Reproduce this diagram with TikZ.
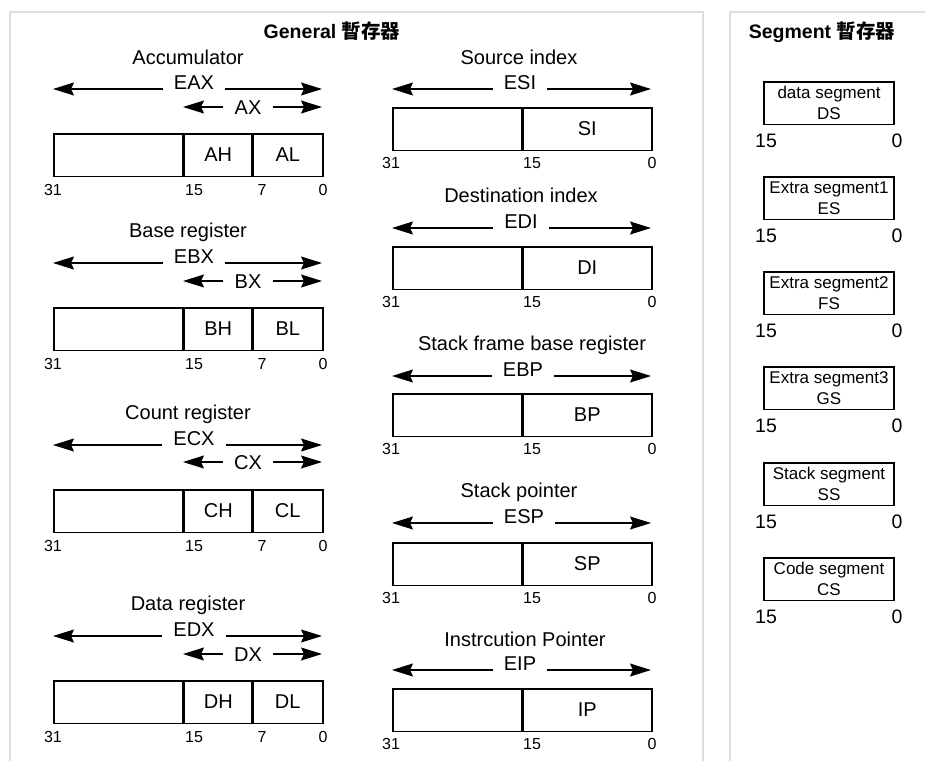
\documentclass[tikz,border=0pt]{standalone}
\usepackage{fontspec}
\setmainfont{Liberation Sans}
\newfontfamily\cjk{Noto Sans CJK TC}
\usetikzlibrary{arrows.meta}
\tikzset{
 arr/.style={line width=1.3pt, -{Stealth[length=21pt,width=13pt,inset=3pt]}},
 lbl/.style={font=\fontsize{20}{23}\selectfont, inner sep=0pt, anchor=base},
 elbl/.style={font=\fontsize{20}{23}\selectfont, inner ysep=0pt, inner xsep=11pt, anchor=base},
 xlbl/.style={font=\fontsize{20}{23}\selectfont, inner ysep=0pt, inner xsep=11pt},
 bit/.style={font=\fontsize{16}{18}\selectfont, inner sep=0pt, anchor=base},
 regbox/.style={draw, line width=1.5pt, minimum height=42.5pt, inner sep=0pt, anchor=north west, font=\fontsize{20}{23}\selectfont},
 divider/.style={line width=2.2pt},
 panel/.style={draw=black!13, line width=1.5pt},
 ttl/.style={font=\fontsize{19.5}{22}\selectfont\bfseries, inner sep=0pt, anchor=base},
 segbox/.style={draw, line width=1.5pt, minimum width=130pt, minimum height=42.5pt, inner sep=0pt, align=center, font=\fontsize{17}{21}\selectfont},
 sbit/.style={font=\fontsize{19.5}{22}\selectfont, inner sep=0pt, anchor=base}
}
% left register: #1 letter, #2 name, #3 name baseline, #4 E line y, #5 X line y, #6 box top
\newcommand\leftreg[6]{%
 \node[lbl] (#1name) at (188,#3) {#2};
 \coordinate (#1EL) at (53,#4); \coordinate (#1ER) at (322,#4);
 \node[elbl] (#1E) at (194,#4) {E#1X};
 \draw[arr] (#1E.base west) -- (#1EL);
 \draw[arr] (#1E.base east) -- (#1ER);
 \coordinate (#1XL) at (183,#5); \coordinate (#1XR) at (322,#5);
 \node[xlbl] (#1X) at (248,#5+1) {#1X};
 \draw[arr] (#1X.west |- #1XL) -- (#1XL);
 \draw[arr] (#1X.east |- #1XR) -- (#1XR);
 \node[regbox, minimum width=130pt] (#1up) at (53,#6) {};
 \node[regbox, minimum width=69pt] (#1H) at (183,#6) {#1H};
 \node[regbox, minimum width=70pt] (#1L) at (252,#6) {#1L};
 \draw[divider] (#1H.north west) -- (#1H.south west);
 \draw[divider] (#1L.north west) -- (#1L.south west);
 \node[bit] (#1b31) at (53,#6+62) {31};
 \node[bit] (#1b15) at (194,#6+62) {15};
 \node[bit] (#1b7) at (262,#6+62) {7};
 \node[bit] (#1b0) at (323,#6+62) {0};
}
% right register: #1 short name, #2 name, #3 name x, #4 name baseline, #5 E x, #6 line y, #7 box top
\newcommand\rightreg[7]{%
 \node[lbl] (#1name) at (#3,#4) {#2};
 \coordinate (#1EL) at (392,#6); \coordinate (#1ER) at (651,#6);
 \node[elbl] (#1E) at (#5,#6) {E#1};
 \draw[arr] (#1E.base west) -- (#1EL);
 \draw[arr] (#1E.base east) -- (#1ER);
 \node[regbox, minimum width=130pt] (#1up) at (392,#7) {};
 \node[regbox, minimum width=129pt] (#1lo) at (522,#7) {#1};
 \draw[divider] (#1lo.north west) -- (#1lo.south west);
 \node[bit] (#1b31) at (391,#7+61) {31};
 \node[bit] (#1b15) at (532,#7+61) {15};
 \node[bit] (#1b0) at (652,#7+61) {0};
}
% segment register: #1 name, #2 text, #3 top
\newcommand\segreg[3]{%
 \node[segbox] (#1) at (829,#3+21) {#2};
 \node[sbit] (#1b15) at (766,#3+65) {15};
 \node[sbit] (#1b0) at (897,#3+65) {0};
}
\begin{document}
\begin{tikzpicture}[x=1pt,y=-1pt]
\useasboundingbox (0,0) rectangle (925,760);
\clip (0,0) rectangle (925,760);
\draw[panel] (10,12) rectangle (703,800);
\draw[panel] (730,12) rectangle (950,800);
\node[ttl] (gtitle) at (332,38.5) {General {\cjk 暫存器}};
\node[ttl] (stitle) at (822,38.5) {Segment {\cjk 暫存器}};

\leftreg{A}{Accumulator}{64.5}{89}{107}{133}
\leftreg{B}{Base register}{237}{263}{281}{307}
\leftreg{C}{Count register}{419}{445}{462}{489}
\leftreg{D}{Data register}{610}{636}{654}{680}

\rightreg{SI}{Source index}{519}{64}{520}{89}{107}
\rightreg{DI}{Destination index}{521}{202}{521}{228}{246}
\rightreg{BP}{Stack frame base register}{532}{350}{523}{376}{393}
\rightreg{SP}{Stack pointer}{519}{497}{524}{523}{542}
\rightreg{IP}{Instrcution Pointer}{525}{646}{520}{670}{688}

\segreg{DS}{data segment\\DS}{82}
\segreg{ES}{Extra segment1\\ES}{177}
\segreg{FS}{Extra segment2\\FS}{272}
\segreg{GS}{Extra segment3\\GS}{367}
\segreg{SS}{Stack segment\\SS}{463}
\segreg{CS}{Code segment\\CS}{558}
\end{tikzpicture}
\end{document}
